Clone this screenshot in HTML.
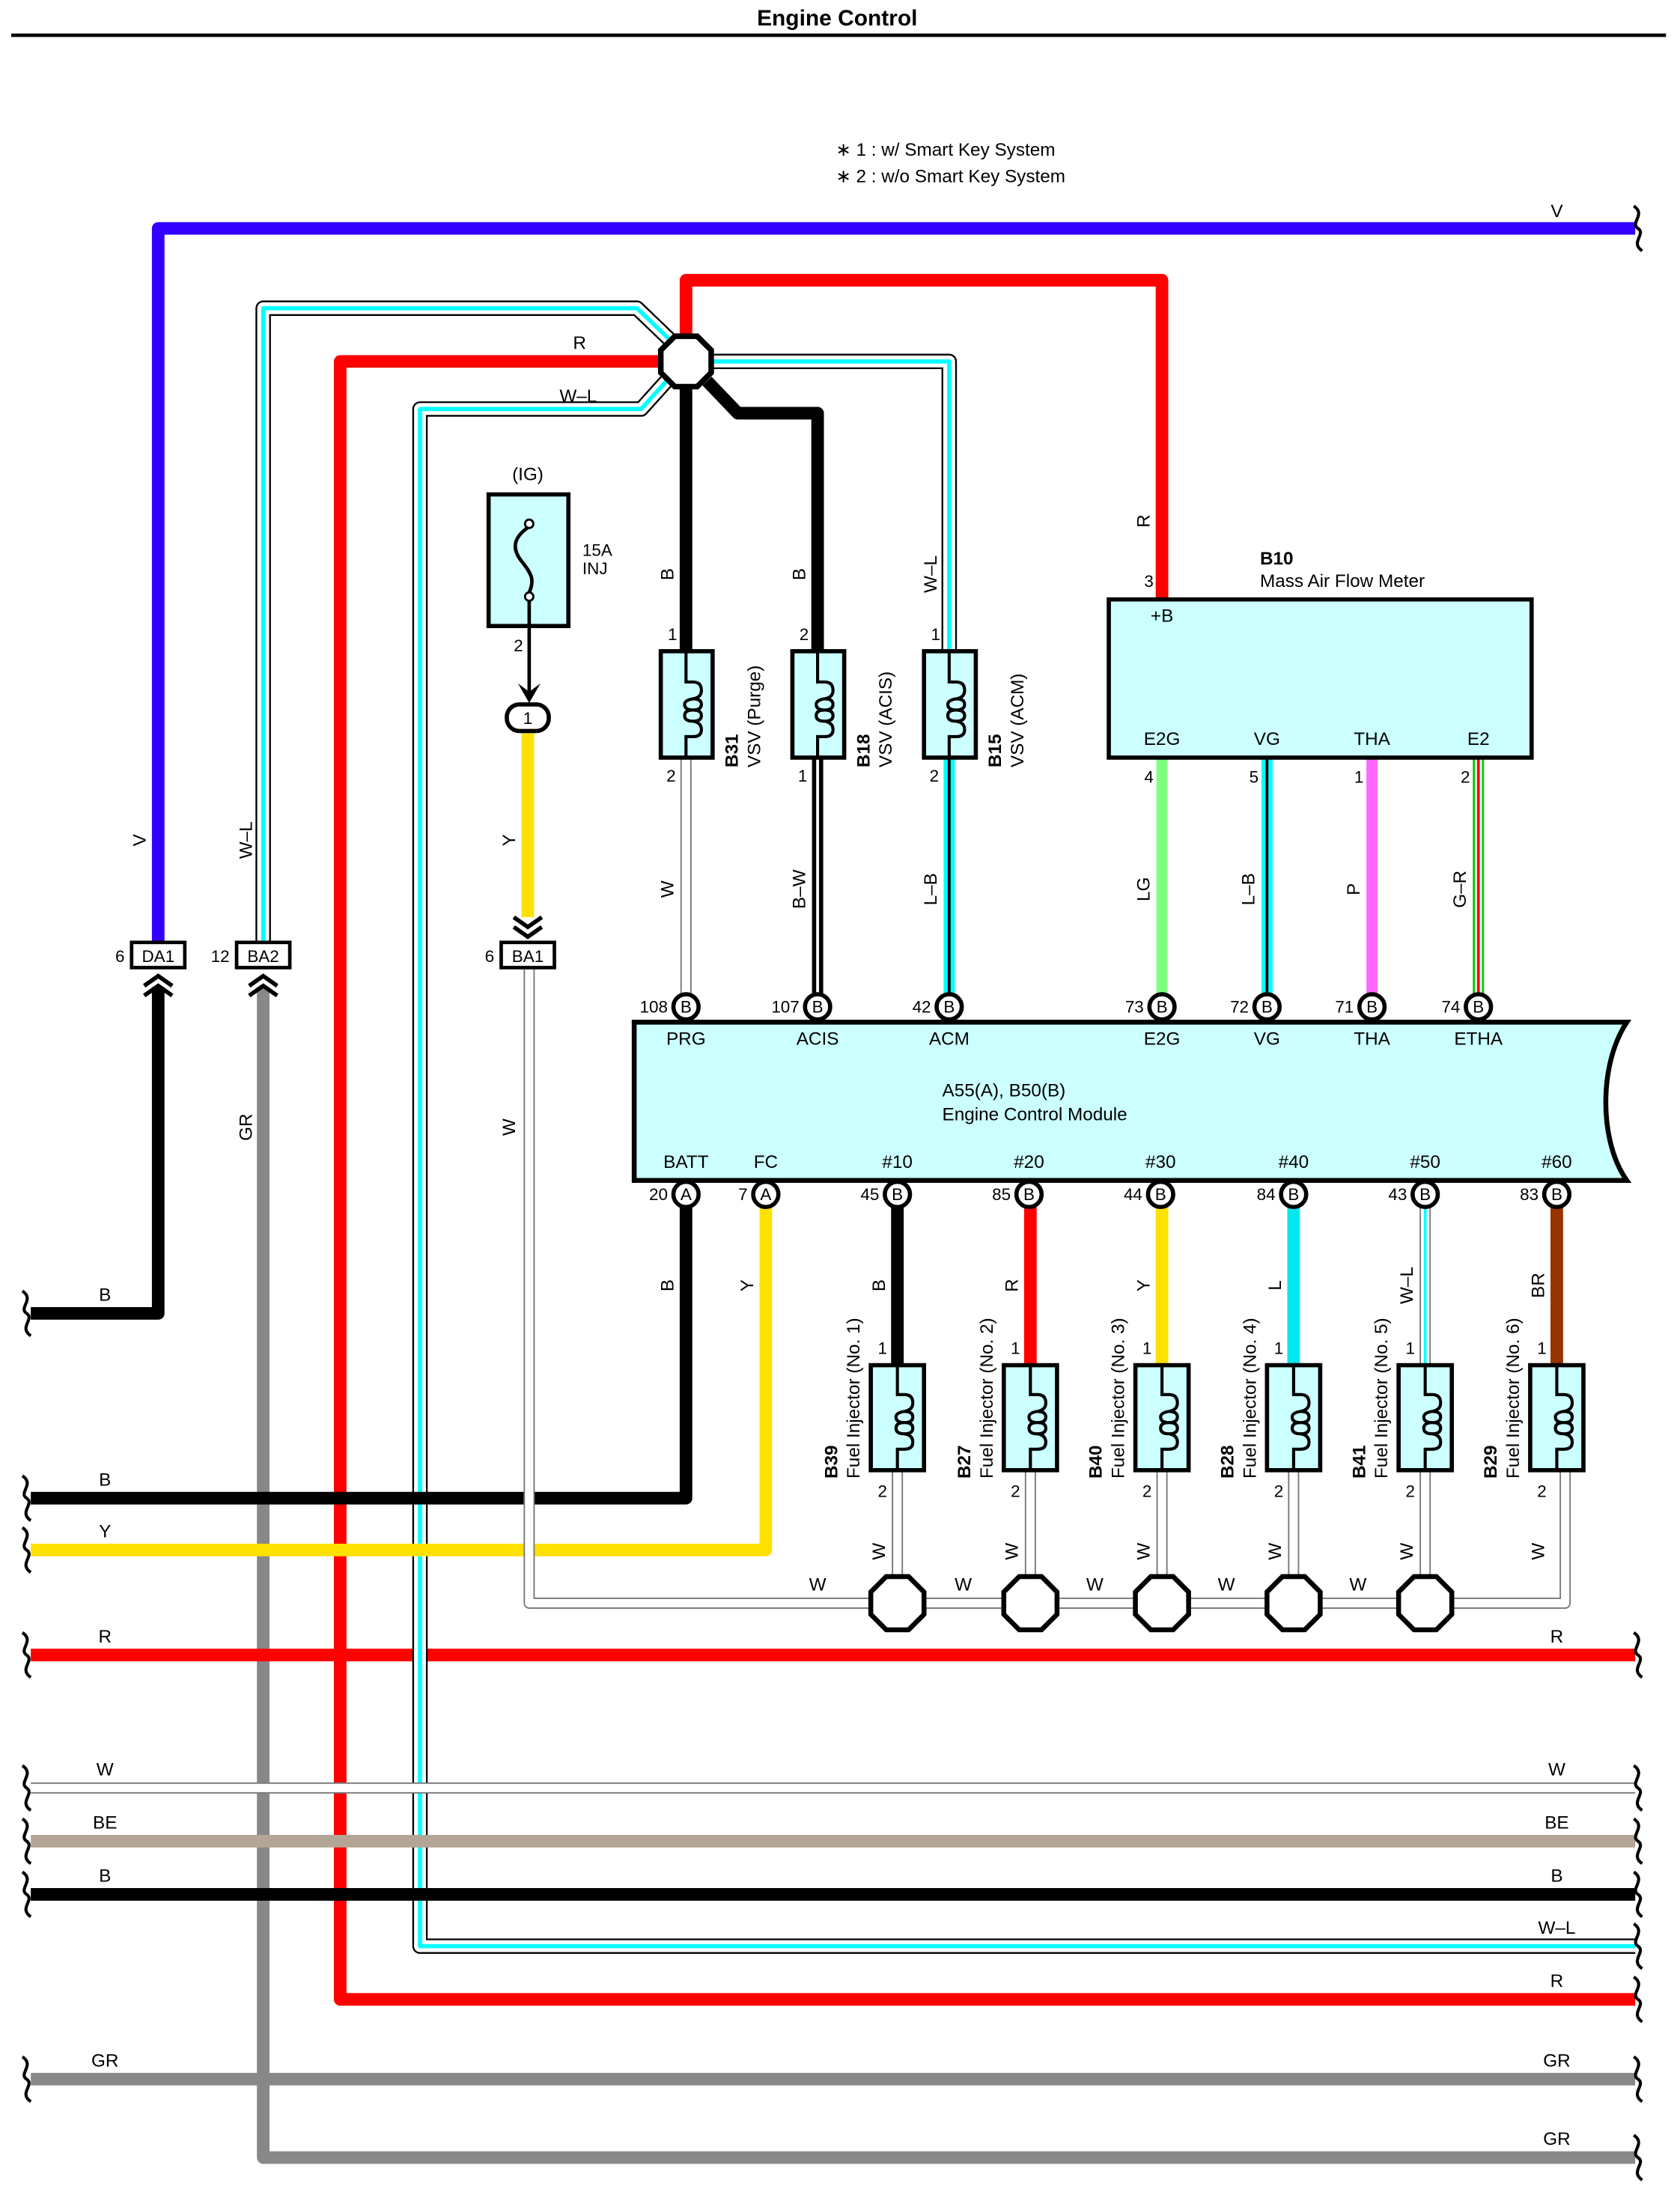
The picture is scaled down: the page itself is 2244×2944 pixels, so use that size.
<!DOCTYPE html>
<html><head><meta charset="utf-8"><style>
html,body{margin:0;padding:0;background:#fff}
svg{display:block}
text{font-family:"Liberation Sans",sans-serif;fill:#000}
</style></head><body>
<svg width="2244" height="2944" viewBox="0 0 1200 1574" xmlns="http://www.w3.org/2000/svg">
<defs>
<g id="coil">
<path d="M-5,-38 V-16 H0 Q6,-16 6,-10 Q6,-5 0,-4 Q-6,-3 -6,0 Q-6,4 0,4 Q6,4 6,0 Q6,-4 0,-4 M0,4 Q-6,4 -6,8 Q-6,12 0,12 Q6,12 6,8 Q6,4 0,4 M0,12 Q6,13 6,18 Q6,23 0,23 H-5 V38" fill="none" stroke="#000" stroke-width="2.2"/>
</g>
<g id="sq"><path d="M-3,-16 C6,-10 -6,-4 0,0 C6,4 -6,10 3,16" fill="none" stroke="#000" stroke-width="2.2"/></g>
</defs>
<rect width="1200" height="1574" fill="#fff"/>
<text x="598" y="18" font-size="16" font-weight="bold" text-anchor="middle">Engine Control</text>
<line x1="8" y1="25" x2="1190" y2="25" stroke="#000" stroke-width="2.5"/>
<text x="597" y="111" font-size="13">∗ 1 : w/ Smart Key System</text>
<text x="597" y="130" font-size="13">∗ 2 : w/o Smart Key System</text>

<g fill="none" stroke-linejoin="round" stroke-linecap="butt">
<!-- V -->
<path d="M113,673 V163 H1168" stroke="#3300ff" stroke-width="9"/>
<!-- B from DA1 -->
<path d="M113,705 V938 H22" stroke="#000" stroke-width="9"/>
<!-- GR -->
<path d="M188,705 V1541 H1168" stroke="#888" stroke-width="9"/>
<path d="M22,1485 H1168" stroke="#888" stroke-width="9"/>
<!-- red long -->
<path d="M472,258 H243 V1428 H1168" stroke="#f00" stroke-width="9"/>
<path d="M490,240 V200 H830 V428" stroke="#f00" stroke-width="9"/>
<path d="M22,1182 H1168" stroke="#f00" stroke-width="9"/>
<!-- W-L wires -->
<g>
<path d="M188,673 V220 H455 L480,244 M508,258 H678 V465 M476,272 L458,292 H300 V1390 H1168" stroke="#000" stroke-width="11"/>
<path d="M188,673 V220 H455 L480,244 M508,258 H678 V465 M476,272 L458,292 H300 V1390 H1168" stroke="#fff" stroke-width="8.5"/>
<path d="M188,673 V220 H455 L480,244 M508,258 H678 V465 M476,272 L458,292 H300 V1390 H1168" stroke="#00ffff" stroke-width="3"/>
</g>
<!-- black from splice -->
<path d="M490,276 V465" stroke="#000" stroke-width="9"/>
<path d="M505,272 L527,295 H584 V465" stroke="#000" stroke-width="9"/>
<!-- W horizontal bus -->
<path d="M22,1277 H1168" stroke="#777" stroke-width="8"/><path d="M22,1277 H1168" stroke="#fff" stroke-width="6"/>
<path d="M22,1315 H1168" stroke="#b4a696" stroke-width="9"/>
<path d="M22,1353 H1168" stroke="#000" stroke-width="9"/>
<!-- B and Y from ECM -->
<path d="M490,862 V1070 H22" stroke="#000" stroke-width="9"/>
<path d="M547,862 V1107 H22" stroke="#ffe100" stroke-width="9"/>
<!-- Y from fuse -->
<path d="M377,522 V655" stroke="#ffe100" stroke-width="9"/>
<!-- W thin wires -->
<g>
<path d="M490,541 V710 M378,691 V1145 H1118 V1050 M641,1050 V1145 M736,1050 V1145 M830,1050 V1145 M924,1050 V1145 M1018,1050 V1145" stroke="#777" stroke-width="8"/>
<path d="M490,541 V710 M378,691 V1145 H1118 V1050 M641,1050 V1145 M736,1050 V1145 M830,1050 V1145 M924,1050 V1145 M1018,1050 V1145" stroke="#fff" stroke-width="6"/>
</g>
<!-- B-W -->
<path d="M584,541 V710" stroke="#000" stroke-width="8"/><path d="M584,541 V710" stroke="#fff" stroke-width="2"/>
<!-- L-B -->
<path d="M678,541 V710" stroke="#00ffff" stroke-width="8"/><path d="M678,541 V710" stroke="#000" stroke-width="2"/>
<path d="M905,541 V710" stroke="#00ffff" stroke-width="8"/><path d="M905,541 V710" stroke="#000" stroke-width="2"/>
<path d="M830,541 V710" stroke="#80ff80" stroke-width="8"/>
<path d="M980,541 V710" stroke="#ff66ff" stroke-width="8"/>
<path d="M1056,541 V710" stroke="#00cc00" stroke-width="8"/><path d="M1056,541 V710" stroke="#fff" stroke-width="5"/><path d="M1056,541 V710" stroke="#f00" stroke-width="2"/>
<!-- injector wires -->
<path d="M641,862 V975" stroke="#000" stroke-width="9"/>
<path d="M736,862 V975" stroke="#f00" stroke-width="9"/>
<path d="M830,862 V975" stroke="#ffe100" stroke-width="9"/>
<path d="M924,862 V975" stroke="#00e8f0" stroke-width="9"/>
<path d="M1018,862 V975" stroke="#777" stroke-width="8"/><path d="M1018,862 V975" stroke="#fff" stroke-width="6"/><path d="M1018,862 V975" stroke="#00ffff" stroke-width="2"/>
<path d="M1112,862 V975" stroke="#993300" stroke-width="9"/>
</g>

<!-- splice -->
<polygon points="482,240 498,240 508,250 508,266 498,276 482,276 472,266 472,250" fill="#fff" stroke="#000" stroke-width="4"/>
<!-- bottom splices -->
<g fill="#fff" stroke="#000" stroke-width="3.5">
<polygon points="633,1126 649,1126 660,1137 660,1153 649,1164 633,1164 622,1153 622,1137"/>
<polygon points="728,1126 744,1126 755,1137 755,1153 744,1164 728,1164 717,1153 717,1137"/>
<polygon points="822,1126 838,1126 849,1137 849,1153 838,1164 822,1164 811,1153 811,1137"/>
<polygon points="916,1126 932,1126 943,1137 943,1153 932,1164 916,1164 905,1153 905,1137"/>
<polygon points="1010,1126 1026,1126 1037,1137 1037,1153 1026,1164 1010,1164 999,1153 999,1137"/>
</g>

<!-- squiggles -->
<use href="#sq" x="1170" y="163"/>
<use href="#sq" x="1170" y="1182"/><use href="#sq" x="1170" y="1277"/><use href="#sq" x="1170" y="1315"/><use href="#sq" x="1170" y="1353"/><use href="#sq" x="1170" y="1390"/><use href="#sq" x="1170" y="1428"/><use href="#sq" x="1170" y="1485"/><use href="#sq" x="1170" y="1541"/>
<use href="#sq" x="19" y="938"/><use href="#sq" x="19" y="1070"/><use href="#sq" x="19" y="1107"/><use href="#sq" x="19" y="1182"/><use href="#sq" x="19" y="1277"/><use href="#sq" x="19" y="1315"/><use href="#sq" x="19" y="1353"/><use href="#sq" x="19" y="1485"/>

<!-- connectors DA1 BA2 BA1 -->
<g stroke="#000" stroke-width="2.5" fill="#fff">
<rect x="94" y="673" width="38" height="18"/>
<rect x="169" y="673" width="38" height="18"/>
<rect x="358" y="673" width="38" height="18"/>
</g>
<g font-size="12" text-anchor="middle"><text x="113" y="687">DA1</text><text x="188" y="687">BA2</text><text x="377" y="687">BA1</text></g>
<g font-size="12" text-anchor="end"><text x="89" y="687">6</text><text x="164" y="687">12</text><text x="353" y="687">6</text></g>
<g fill="none" stroke="#000" stroke-width="3">
<path d="M103,704 L113,697 L123,704 M103,711 L113,704 L123,711"/>
<path d="M178,704 L188,697 L198,704 M178,711 L188,704 L198,711"/>
<path d="M367,655 L377,662 L387,655 M367,662 L377,669 L387,662"/>
</g>

<!-- fuse -->
<text x="377" y="343" font-size="13" text-anchor="middle">(IG)</text>
<rect x="349" y="353" width="57" height="94" fill="#ccffff" stroke="#000" stroke-width="3"/>
<path d="M378,376 C366,384 366,392 372,400 C380,410 382,414 378,423" fill="none" stroke="#000" stroke-width="2.5"/>
<circle cx="378" cy="374" r="3" fill="#fff" stroke="#000" stroke-width="1.5"/>
<circle cx="378" cy="426" r="3" fill="#fff" stroke="#000" stroke-width="1.5"/>
<text x="416" y="397" font-size="12">15A</text><text x="416" y="410" font-size="12">INJ</text>
<line x1="378" y1="429" x2="378" y2="496" stroke="#000" stroke-width="2.5"/>
<path d="M370,488 L378,494 L386,488 L378,502 Z" fill="#000"/>
<text x="367" y="465" font-size="12">2</text>
<rect x="362" y="503" width="30" height="19" rx="9" fill="#fff" stroke="#000" stroke-width="3"/>
<text x="377" y="517" font-size="12" text-anchor="middle">1</text>

<!-- VSVs -->
<g fill="#ccffff" stroke="#000" stroke-width="3">
<rect x="472" y="465" width="37" height="76"/><rect x="566" y="465" width="37" height="76"/><rect x="660" y="465" width="37" height="76"/>
</g>
<use href="#coil" x="495" y="503"/><use href="#coil" x="589" y="503"/><use href="#coil" x="683" y="503"/>
<g font-size="12"><text x="477" y="457">1</text><text x="571" y="457">2</text><text x="665" y="457">1</text>
<text x="476" y="558">2</text><text x="570" y="558">1</text><text x="664" y="558">2</text></g>
<g font-size="13">
<text transform="translate(527,548) rotate(-90)"><tspan font-weight="bold">B31</tspan></text>
<text transform="translate(543,548) rotate(-90)">VSV (Purge)</text>
<text transform="translate(621,548) rotate(-90)"><tspan font-weight="bold">B18</tspan></text>
<text transform="translate(637,548) rotate(-90)">VSV (ACIS)</text>
<text transform="translate(715,548) rotate(-90)"><tspan font-weight="bold">B15</tspan></text>
<text transform="translate(731,548) rotate(-90)">VSV (ACM)</text>
</g>

<!-- B10 -->
<text x="900" y="403" font-size="13" font-weight="bold">B10</text>
<text x="900" y="419" font-size="13">Mass Air Flow Meter</text>
<rect x="792" y="428" width="302" height="113" fill="#ccffff" stroke="#000" stroke-width="3"/>
<g font-size="13" text-anchor="middle"><text x="830" y="444">+B</text><text x="830" y="532">E2G</text><text x="905" y="532">VG</text><text x="980" y="532">THA</text><text x="1056" y="532">E2</text></g>
<g font-size="12" text-anchor="end"><text x="824" y="419">3</text><text x="824" y="559">4</text><text x="899" y="559">5</text><text x="974" y="559">1</text><text x="1050" y="559">2</text></g>

<!-- ECM -->
<path d="M453,730 H1162 C1142,760 1142,815 1162,843 H453 Z" fill="#ccffff" stroke="#000" stroke-width="3.5"/>
<text x="673" y="783" font-size="13">A55(A), B50(B)</text>
<text x="673" y="800" font-size="13">Engine Control Module</text>
<g font-size="13" text-anchor="middle">
<text x="490" y="746">PRG</text><text x="584" y="746">ACIS</text><text x="678" y="746">ACM</text><text x="830" y="746">E2G</text><text x="905" y="746">VG</text><text x="980" y="746">THA</text><text x="1056" y="746">ETHA</text>
<text x="490" y="834">BATT</text><text x="547" y="834">FC</text><text x="641" y="834">#10</text><text x="735" y="834">#20</text><text x="829" y="834">#30</text><text x="924" y="834">#40</text><text x="1018" y="834">#50</text><text x="1112" y="834">#60</text>
</g>
<g fill="#fff" stroke="#000" stroke-width="3">
<circle cx="490" cy="719" r="9"/><circle cx="584" cy="719" r="9"/><circle cx="678" cy="719" r="9"/><circle cx="830" cy="719" r="9"/><circle cx="905" cy="719" r="9"/><circle cx="980" cy="719" r="9"/><circle cx="1056" cy="719" r="9"/>
<circle cx="490" cy="853" r="9"/><circle cx="547" cy="853" r="9"/><circle cx="641" cy="853" r="9"/><circle cx="735" cy="853" r="9"/><circle cx="829" cy="853" r="9"/><circle cx="924" cy="853" r="9"/><circle cx="1018" cy="853" r="9"/><circle cx="1112" cy="853" r="9"/>
</g>
<g font-size="12" text-anchor="middle">
<text x="490" y="723">B</text><text x="584" y="723">B</text><text x="678" y="723">B</text><text x="830" y="723">B</text><text x="905" y="723">B</text><text x="980" y="723">B</text><text x="1056" y="723">B</text>
<text x="490" y="857">A</text><text x="547" y="857">A</text><text x="641" y="857">B</text><text x="735" y="857">B</text><text x="829" y="857">B</text><text x="924" y="857">B</text><text x="1018" y="857">B</text><text x="1112" y="857">B</text>
</g>
<g font-size="12" text-anchor="end">
<text x="477" y="723">108</text><text x="571" y="723">107</text><text x="665" y="723">42</text><text x="817" y="723">73</text><text x="892" y="723">72</text><text x="967" y="723">71</text><text x="1043" y="723">74</text>
<text x="477" y="857">20</text><text x="534" y="857">7</text><text x="628" y="857">45</text><text x="722" y="857">85</text><text x="816" y="857">44</text><text x="911" y="857">84</text><text x="1005" y="857">43</text><text x="1099" y="857">83</text>
</g>

<!-- injectors -->
<g fill="#ccffff" stroke="#000" stroke-width="3">
<rect x="622" y="975" width="38" height="75"/><rect x="717" y="975" width="38" height="75"/><rect x="811" y="975" width="38" height="75"/><rect x="905" y="975" width="38" height="75"/><rect x="999" y="975" width="38" height="75"/><rect x="1093" y="975" width="38" height="75"/>
</g>
<use href="#coil" x="646" y="1012"/><use href="#coil" x="741" y="1012"/><use href="#coil" x="835" y="1012"/><use href="#coil" x="929" y="1012"/><use href="#coil" x="1023" y="1012"/><use href="#coil" x="1117" y="1012"/>
<g font-size="12">
<text x="627" y="967">1</text><text x="722" y="967">1</text><text x="816" y="967">1</text><text x="910" y="967">1</text><text x="1004" y="967">1</text><text x="1098" y="967">1</text>
<text x="627" y="1069">2</text><text x="722" y="1069">2</text><text x="816" y="1069">2</text><text x="910" y="1069">2</text><text x="1004" y="1069">2</text><text x="1098" y="1069">2</text>
</g>
<g font-size="13">
<text transform="translate(598,1056) rotate(-90)" font-weight="bold">B39</text><text transform="translate(614,1056) rotate(-90)">Fuel Injector (No. 1)</text>
<text transform="translate(693,1056) rotate(-90)" font-weight="bold">B27</text><text transform="translate(709,1056) rotate(-90)">Fuel Injector (No. 2)</text>
<text transform="translate(787,1056) rotate(-90)" font-weight="bold">B40</text><text transform="translate(803,1056) rotate(-90)">Fuel Injector (No. 3)</text>
<text transform="translate(881,1056) rotate(-90)" font-weight="bold">B28</text><text transform="translate(897,1056) rotate(-90)">Fuel Injector (No. 4)</text>
<text transform="translate(975,1056) rotate(-90)" font-weight="bold">B41</text><text transform="translate(991,1056) rotate(-90)">Fuel Injector (No. 5)</text>
<text transform="translate(1069,1056) rotate(-90)" font-weight="bold">B29</text><text transform="translate(1085,1056) rotate(-90)">Fuel Injector (No. 6)</text>
</g>

<!-- horizontal wire labels -->
<g font-size="13" text-anchor="middle">
<text x="1112" y="155">V</text><text x="414" y="249">R</text><text x="413" y="287">W–L</text>
<text x="75" y="929">B</text><text x="75" y="1061">B</text><text x="75" y="1098">Y</text><text x="75" y="1173">R</text><text x="1112" y="1173">R</text>
<text x="75" y="1268">W</text><text x="1112" y="1268">W</text><text x="75" y="1306">BE</text><text x="1112" y="1306">BE</text>
<text x="75" y="1344">B</text><text x="1112" y="1344">B</text><text x="1112" y="1381">W–L</text><text x="1112" y="1419">R</text>
<text x="75" y="1476">GR</text><text x="1112" y="1476">GR</text><text x="1112" y="1532">GR</text>
<text x="584" y="1136">W</text><text x="688" y="1136">W</text><text x="782" y="1136">W</text><text x="876" y="1136">W</text><text x="970" y="1136">W</text>
</g>
<!-- vertical wire labels -->
<g font-size="13" text-anchor="middle">
<text transform="translate(104,600) rotate(-90)">V</text>
<text transform="translate(180,600) rotate(-90)">W–L</text>
<text transform="translate(180,805) rotate(-90)">GR</text>
<text transform="translate(368,600) rotate(-90)">Y</text>
<text transform="translate(368,805) rotate(-90)">W</text>
<text transform="translate(481,410) rotate(-90)">B</text>
<text transform="translate(575,410) rotate(-90)">B</text>
<text transform="translate(669,410) rotate(-90)">W–L</text>
<text transform="translate(481,635) rotate(-90)">W</text>
<text transform="translate(575,635) rotate(-90)">B–W</text>
<text transform="translate(669,635) rotate(-90)">L–B</text>
<text transform="translate(821,372) rotate(-90)">R</text>
<text transform="translate(821,635) rotate(-90)">LG</text>
<text transform="translate(896,635) rotate(-90)">L–B</text>
<text transform="translate(971,635) rotate(-90)">P</text>
<text transform="translate(1047,635) rotate(-90)">G–R</text>
<text transform="translate(481,918) rotate(-90)">B</text>
<text transform="translate(538,918) rotate(-90)">Y</text>
<text transform="translate(632,918) rotate(-90)">B</text>
<text transform="translate(727,918) rotate(-90)">R</text>
<text transform="translate(821,918) rotate(-90)">Y</text>
<text transform="translate(915,918) rotate(-90)">L</text>
<text transform="translate(1009,918) rotate(-90)">W–L</text>
<text transform="translate(1103,918) rotate(-90)">BR</text>
<text transform="translate(632,1108) rotate(-90)">W</text>
<text transform="translate(727,1108) rotate(-90)">W</text>
<text transform="translate(821,1108) rotate(-90)">W</text>
<text transform="translate(915,1108) rotate(-90)">W</text>
<text transform="translate(1009,1108) rotate(-90)">W</text>
<text transform="translate(1103,1108) rotate(-90)">W</text>
</g>
</svg>
</body></html>
